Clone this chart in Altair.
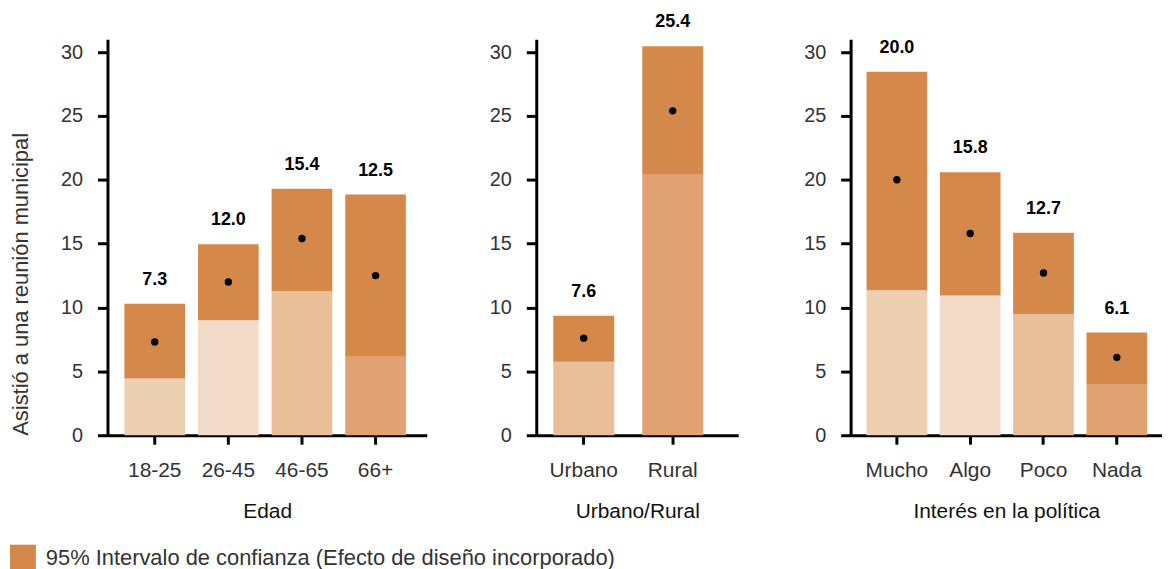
import altair as alt
import pandas as pd

# ---- data ----
edad_cats = ["18-25", "26-45", "46-65", "66+"]
edad_est = [7.3, 12.0, 15.4, 12.5]
edad_lo = [4.45, 9.0, 11.3, 6.15]
edad_hi = [10.3, 14.95, 19.3, 18.85]
edad_tono = [2, 1, 3, 4]

zona_cats = ["Urbano", "Rural"]
zona_est = [7.6, 25.4]
zona_lo = [5.75, 20.4]
zona_hi = [9.35, 30.45]
zona_tono = [3, 4]

interes_cats = ["Mucho", "Algo", "Poco", "Nada"]
interes_est = [20.0, 15.8, 12.7, 6.1]
interes_lo = [11.35, 10.95, 9.5, 3.95]
interes_hi = [28.45, 20.6, 15.85, 8.05]
interes_tono = [2, 1, 3, 4]

y_title = "Asistió a una reunión municipal"
ci_label = "95% Intervalo de confianza (Efecto de diseño incorporado)"
y_ticks = [0, 5, 10, 15, 20, 25, 30]

# ---- styles ----
FONT = "Liberation Sans"
tonos = [1, 2, 3, 4]
tono_colors = ["#F2DBC8", "#EDCFB1", "#E8BF99", "#E0A273"]
ci_color = "#D4894A"


def panel(cats, est, lo, hi, tono, xtitle, width, pi, po, align, first):
    df = pd.DataFrame({"cat": cats, "est": est, "lo": lo, "hi": hi,
                       "tono": tono, "ci": [ci_label] * len(cats)})
    base = alt.Chart(df)
    x = alt.X("cat:N", sort=cats, title=xtitle,
              scale=alt.Scale(paddingInner=pi, paddingOuter=po, align=align),
              axis=alt.Axis(labelAngle=0, labelFontSize=21, labelColor="#333333",
                            labelPadding=15, tickSize=9, tickWidth=3, tickColor="black",
                            domainColor="black", domainWidth=3,
                            titleFontSize=21, titleFontWeight="normal", titleColor="#111111",
                            titlePadding=21))
    yscale = alt.Scale(domain=[0, 31], nice=False)
    yaxis = alt.Axis(values=y_ticks, grid=False, labelFontSize=20, labelColor="#333333",
                     labelPadding=15, tickSize=10, tickWidth=3, tickColor="black",
                     domainColor="black", domainWidth=3,
                     titleFontSize=22, titleFontWeight="normal", titleColor="#333333",
                     titleAnchor="start", titlePadding=28)
    if first:
        y = alt.Y("lo:Q", scale=yscale, axis=yaxis, title=y_title)
    else:
        y = alt.Y("lo:Q", scale=yscale, axis=yaxis, title=None)

    lower = base.mark_bar().encode(
        x=x, y=y,
        fill=alt.Fill("tono:O", scale=alt.Scale(domain=tonos, range=tono_colors), legend=None),
    )
    upper = base.mark_bar().encode(
        x=x, y=alt.Y("lo:Q", scale=yscale), y2="hi:Q",
        color=alt.Color("ci:N", scale=alt.Scale(domain=[ci_label], range=[ci_color]),
                        legend=alt.Legend(title=None, orient="none", legendX=-98, legendY=508,
                                          symbolType="square", symbolSize=676,
                                          symbolStrokeWidth=0, labelFontSize=22,
                                          labelFont=FONT, labelColor="#333333",
                                          labelOffset=10, labelLimit=1000)),
    )
    pts = base.mark_circle(size=55, color="black", opacity=1).encode(
        x=x, y=alt.Y("est:Q", scale=yscale))
    txt = base.mark_text(dy=-24, fontSize=18, fontWeight="bold", font=FONT,
                         color="black", baseline="middle").encode(
        x=x, y=alt.Y("hi:Q", scale=yscale), text=alt.Text("est:Q", format=".1f"))
    return alt.layer(lower, upper, pts, txt).properties(width=width, height=398)


p1 = panel(edad_cats, edad_est, edad_lo, edad_hi, edad_tono, "Edad",
           321, 0.1757, 0.257, 0.447, True)
p2 = panel(zona_cats, zona_est, zona_lo, zona_hi, zona_tono, "Urbano/Rural",
           203, 0.3146, 0.2921, 0.327, False)
p3 = panel(interes_cats, interes_est, interes_lo, interes_hi, interes_tono,
           "Interés en la política", 313, 0.172, 0.2095, 0.518, False)

chart = alt.hconcat(alt.hconcat(p1, p2, spacing=62), p3, spacing=65).properties(
    padding={"left": 1, "top": 4, "right": 0, "bottom": 0}
).configure_view(stroke=None).configure_axis(
    labelFont=FONT, titleFont=FONT
).configure_legend(labelFont=FONT)

chart.save("out.html", embed_options={"renderer": "svg", "actions": False})
